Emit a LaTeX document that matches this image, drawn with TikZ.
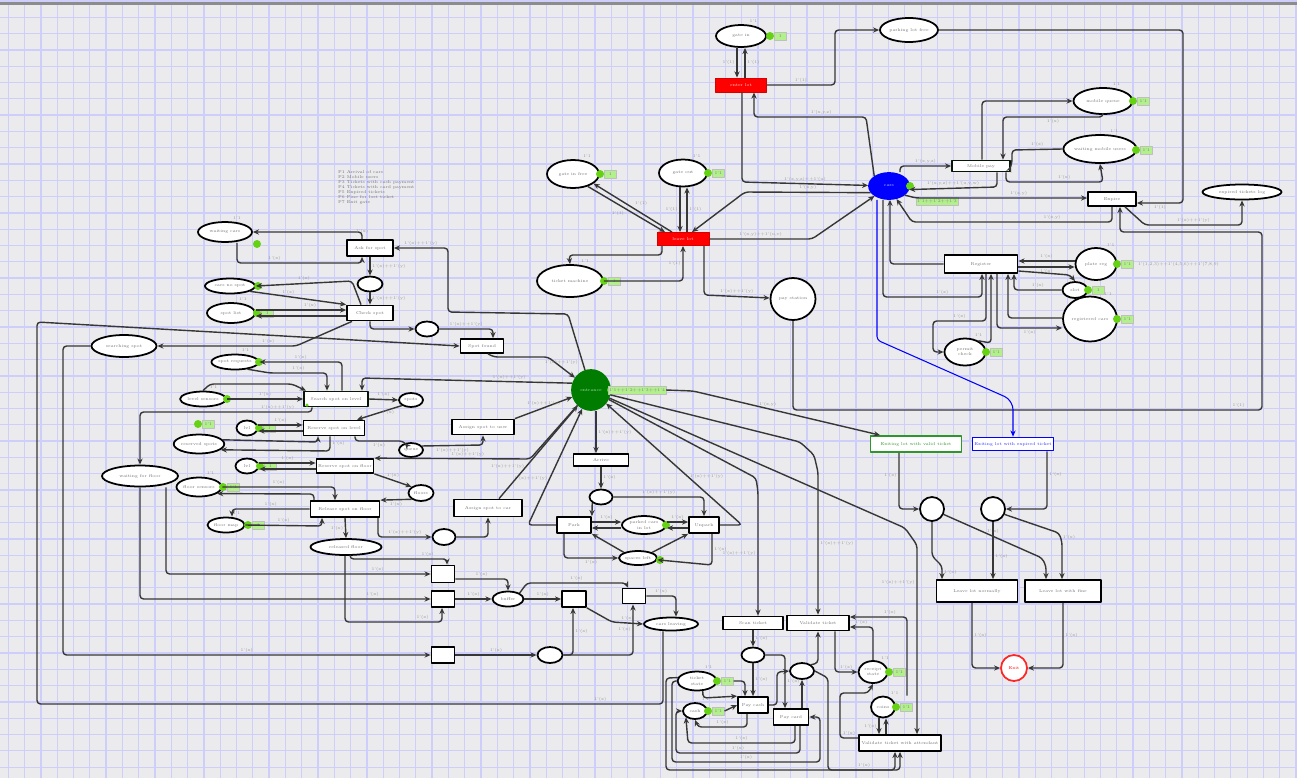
\documentclass[tikz,border=0pt]{standalone}
\usepackage{tikz}
\usetikzlibrary{arrows.meta,shapes.geometric}

\definecolor{bggray}{RGB}{235,235,237}
\definecolor{gridblue}{RGB}{206,206,250}
\definecolor{tokgreen}{RGB}{102,210,20}
\definecolor{markgreen}{RGB}{178,240,140}
\definecolor{firered}{RGB}{255,0,0}
\definecolor{darkgreen}{RGB}{0,125,0}
\definecolor{rimgreen}{RGB}{45,150,45}
\definecolor{edgegray}{RGB}{55,55,55}

\newcommand{\nodefont}{\fontsize{2.4}{2.9}\selectfont}
% token dot plus marking box next to a place
\newcommand{\tokmark}[4]{%
  \node[tok] (#1t) at (#2,#3) {};
  \node[tokbox, anchor=west] (#1m) at (#2+4,#3) {#4};}

\tikzset{
  place/.style 2 args={ellipse, draw, line width=1pt, fill=white, inner sep=0pt,
    minimum width=#1*0.02cm, minimum height=#2*0.02cm, font=\nodefont, text=black!55, align=center},
  transition/.style 2 args={rectangle, draw, line width=1pt, fill=white, inner sep=0pt,
    minimum width=#1*0.02cm, minimum height=#2*0.02cm, font=\nodefont, text=black!55},
  firing/.style={fill=firered, draw=firered!85!black, text=white!85!red, line width=0.5pt},
  flow/.style={draw=edgegray, line width=0.8pt, rounded corners=2pt, ->},
  tok/.style={circle, fill=tokgreen, inner sep=0pt, minimum size=0.16cm},
  tokbox/.style={fill=markgreen, draw=black!25, line width=0.3pt, inner sep=0.6pt,
    minimum width=0.24cm, minimum height=0.16cm, font=\nodefont, text=black!50},
  lbl/.style={font=\nodefont, text=black!40, inner sep=1pt},
}

\begin{document}
\begin{tikzpicture}[x=0.02cm, y=-0.02cm, >={Stealth[length=3.5pt,width=3pt]}, line join=round]
  % canvas with grid
  \useasboundingbox (0,0) rectangle (1297,778);
  \fill[bggray] (0,0) rectangle (1297,778);
  \foreach \i in {0,...,79} \draw[gridblue, line width=0.7pt] ({8.3+16.3*\i},0) -- ++(0,778);
  \foreach \j in {0,...,47} \draw[gridblue, line width=0.7pt] (0,{1+16.3*\j}) -- ++(1297,0);
  \fill[black!45] (0,2) rectangle (1297,4.5);

  % notes
  \node[lbl, anchor=north west, align=left, text=black!55] (notes) at (336,168)
    {P1 Arrival of cars\\P2 Mobile users\\P3 Tickets with cash payment\\P4 Tickets with card payment\\P5 Expired tickets\\P6 Fine for lost ticket\\P7 Exit gate};

  % upper part: gates
  \node[place={50}{22}, label={[lbl]60:1'1}] (ptop1) at (741,36) {gate in};
  \tokmark{ptop1}{770}{36}{1}
  \node[place={58}{24}] (ptop2) at (909,30) {parking lot free};
  \node[transition={51}{14}, firing] (tred1) at (741,85) {enter lot};
  \node[place={40}{26}, fill=blue, draw=blue, text=white!80!blue] (pblue) at (889,186) {cars};
  \node[tok] (pbluet) at (910,186) {};
  \node[tokbox, minimum width=0.76cm] (pbluem) at (937,201) {1'1++1'2++1'3};
  \node[transition={52}{13}, firing] (tred2) at (683,239) {leave lot};
  \node[place={52}{28}, label={[lbl]60:1'1}] (pa) at (573,174) {gate in free};
  \tokmark{pa}{600}{174}{1}
  \node[place={48}{27}, label={[lbl]60:1'1}] (pb) at (683,173) {gate out};
  \tokmark{pb}{708}{173}{1'1}
  \node[place={66}{32}, label={[lbl]60:1'1}] (pc) at (570,281) {ticket machine};
  \tokmark{pc}{604}{281}{1}
  \node[place={45}{42}] (pbig) at (793,299) {pay station};

  % right part: mobile payment and registration
  \node[place={59}{26}, label={[lbl]60:1'1}] (pr1) at (1103,101) {mobile queue};
  \tokmark{pr1}{1133}{101}{1'1}
  \node[place={71}{28}, label={[lbl]60:1'1}] (pr2) at (1100,149) {waiting mobile users};
  \tokmark{pr2}{1136}{150}{1'1}
  \node[transition={58}{11}, draw=black!85!rimgreen] (tr1) at (981,166) {Mobile pay};
  \node[transition={48}{14}] (tr2) at (1112,199) {Expire};
  \node[place={79}{15}] (pr3) at (1242,192) {expired tickets log};
  \node[transition={73}{18}] (tr3) at (981,264) {Register};
  \node[place={41}{32}, label={[lbl]60:1'1}] (pr4) at (1096,264) {plate reg};
  \tokmark{pr4}{1117}{264}{1'1}
  \node[lbl, anchor=west] (pr4note) at (1136,264) {1'(1,2,3)++1'(4,5,6)++1'(7,8,9)};
  \node[place={25}{16}] (pr5) at (1075,290) {slot};
  \tokmark{pr5}{1088}{290}{1}
  \node[place={54}{45}, label={[lbl]60:1'1}] (pr6) at (1090,319) {registered cars};
  \tokmark{pr6}{1117}{319}{1'1}
  \node[place={41}{27}, label={[lbl]60:1'1}] (pr7) at (965,352) {permit\\check};
  \tokmark{pr7}{986}{352}{1'1}

  % exit part
  \node[transition={91}{16}, draw=rimgreen, text=rimgreen] (tgreen) at (916,444) {Exiting lot with valid ticket};
  \node[transition={81}{13}, draw=blue, text=blue!80] (tblue) at (1013,444) {Exiting lot with expired ticket};
  \node[place={24}{24}] (c1) at (932,509) {};
  \node[place={24}{24}] (c2) at (993,509) {};
  \node[transition={81}{22}] (tb1) at (977,591) {Leave lot normally};
  \node[transition={76}{22}] (tb2) at (1063,591) {Leave lot with fine};
  \node[place={26}{26}, draw=red!85, text=red] (pred) at (1014,668) {Exit};

  % center: entrance
  \node[place={38}{40}, fill=darkgreen, draw=darkgreen, text=white!70!darkgreen] (pgreen) at (591,390) {entrance};
  \node[tok] (pgreent) at (611,390) {};
  \node[tokbox, minimum width=0.86cm] (gmark) at (637,390) {1'1++1'2++1'3++1'4};
  \node[transition={55}{12}] (tc1) at (601,460) {Arrive};
  \node[place={23}{15}] (pc1) at (601,497) {};
  \node[transition={34}{16}] (tc2) at (574,525) {Park};
  \node[place={44}{18}] (pc2) at (644,525) {parked cars\\in lot};
  \node[tok] (pc2t) at (666,525) {};
  \node[transition={30}{16}] (tc3) at (704,525) {Unpark};
  \node[place={38}{14}] (pc3) at (638,558) {spaces left};
  \node[tok] (pc3t) at (660,560) {};
  \node[transition={62}{15}] (tc4) at (483,427) {Assign spot to user};
  \node[transition={68}{17}] (tc5) at (488,508) {Assign spot to car};

  % bottom center
  \node[transition={23}{17}] (td1) at (443,574) {};
  \node[transition={23}{16}] (td2) at (443,599) {};
  \node[place={31}{15}] (pd1) at (508,599) {buffer};
  \node[transition={24}{16}] (td3) at (574,599) {};
  \node[transition={23}{15}] (td4) at (634,596) {};
  \node[place={54}{13}] (pd2) at (671,624) {cars leaving};
  \node[transition={23}{16}] (td5) at (443,655) {};
  \node[place={25}{16}] (pd3) at (550,655) {};

  % bottom right: payment
  \node[transition={60}{13}] (te1) at (753,623) {Scan ticket};
  \node[transition={62}{15}] (te2) at (818,623) {Validate ticket};
  \node[place={23}{15}] (pe1) at (753,655) {};
  \node[place={24}{16}] (pe2) at (802,671) {};
  \node[place={39}{19}, label={[lbl]60:1'1}] (pe3) at (697,681) {ticket\\state};
  \tokmark{pe3}{717}{681}{1'1}
  \node[place={24}{16}, label={[lbl]60:1'1}] (pe4) at (695,711) {cash};
  \tokmark{pe4}{708}{711}{1'1}
  \node[transition={30}{16}] (te3) at (753,705) {Pay cash};
  \node[transition={35}{16}] (te4) at (791,717) {Pay card};
  \node[place={29}{22}, label={[lbl]60:1'1}] (pe5) at (873,672) {receipt\\state};
  \tokmark{pe5}{889}{672}{1'1}
  \node[place={24}{21}, label={[lbl]60:1'1}] (pe6) at (883,707) {coins};
  \tokmark{pe6}{896}{707}{1'1}
  \node[transition={82}{16}] (te5) at (900,743) {Validate ticket with attendant};

  % left part: spot search
  \node[place={54}{20}, label={[lbl]60:1'1}] (pl1) at (225,232) {waiting cars};
  \node[tok] (pl1t) at (257,244) {};
  \node[transition={46}{16}] (tl1) at (370,248) {Ask for spot};
  \node[place={25}{15}] (pl2) at (370,284) {};
  \node[place={50}{15}] (pl3) at (230,286) {cars no spot};
  \node[tok] (pl3t) at (258,286) {};
  \node[place={48}{20}, label={[lbl]60:1'1}] (pl4) at (231,313) {spot list};
  \tokmark{pl4}{257}{313}{1}
  \node[transition={46}{15}] (tl2) at (370,313) {Check spot};
  \node[place={23}{15}] (pl5) at (427,329) {};
  \node[transition={43}{14}] (tl3) at (482,346) {Spot found};
  \node[place={65}{22}] (pl23) at (124,346) {searching spot};
  \node[place={44}{15}, label={[lbl]60:1'1}] (pl7) at (235,362) {spot requests};
  \node[tok] (pl7t) at (259,362) {};
  \node[transition={64}{15}, draw=black!85!rimgreen] (tl4) at (336,399) {Search spot on level};
  \node[tok, minimum size=0.07cm] (tl4t) at (307,405) {};
  \node[place={46}{15}, label={[lbl]60:1'1}] (pl8) at (203,399) {level sensors};
  \node[tok] (pl8t) at (227,399) {};
  \node[place={24}{14}] (pl9) at (411,400) {spots};
  \node[transition={61}{15}] (tl5) at (334,428) {Reserve spot on level};
  \node[place={21}{15}] (pl10) at (247,428) {lvl};
  \tokmark{pl10}{259}{428}{1}
  \tokmark{plx}{198}{424}{1'1}
  \node[place={45}{19}] (pl11) at (199,444) {reserved spots};
  \node[place={24}{14}] (pl12) at (411,450) {queue};
  \node[place={23}{15}] (pl15) at (247,466) {lvl};
  \tokmark{pl15}{260}{466}{1}
  \node[transition={57}{14}] (tl6) at (345,466) {Reserve spot on floor};
  \node[place={76}{21}] (pl16) at (140,476) {waiting for floor};
  \node[place={45}{19}, label={[lbl]60:1'1}] (pl17) at (199,487) {floor sensors};
  \tokmark{pl17}{223}{487}{1'1}
  \node[place={25}{16}] (pl18) at (421,493) {floors};
  \node[transition={69}{16}] (tl7) at (345,509) {Release spot on floor};
  \node[place={37}{15}, label={[lbl]60:1'1}] (pl19) at (226,525) {floor map};
  \tokmark{pl19}{248}{525}{1}
  \node[place={71}{16}] (pl20) at (346,547) {released floor};
  \node[place={23}{16}] (pl21) at (444,537) {};

  % arcs of the upper part
  \draw[flow] (737,0 |- ptop1.south) -- (737,0 |- tred1.north) node[lbl,pos=.5,left]{1'(1)};
  \draw[flow] (745,0 |- tred1.north) -- (745,0 |- ptop1.south) node[lbl,pos=.5,right]{1'(1)};
  \draw[flow] (tred1.east) -- (835,85) node[lbl,pos=.5,above]{1'(1)} -- (835,30) -- (ptop2.west);
  \draw[flow] (ptop2.east) -- (1183,30) -- (1183,203) -- (tr2.east |- 0,203) node[lbl,pos=.5,below]{1'(1)};
  \draw[flow] (pblue.north west) -- (866,117) -- (754,117) node[lbl,pos=.4,above]{1'(x,y,z)} -- (754,0 |- tred1.south);
  \draw[flow] (742,0 |- tred1.south) -- (742,182) -- (pblue) node[lbl,pos=.5,above]{1'(x,y,z)++1'(u)};
  \draw[flow] (tred2.east) -- (812,239) node[lbl,pos=.5,above]{1'(x,y)++1'(u,v)} -- (pblue);
  \draw[flow] (pblue.200) -- (745,192) node[lbl,pos=.5,above]{1'(x,y)} -- (692,0 |- tred2.north);
  \draw[flow] (pa.-40) -- (665,0 |- tred2.north) node[lbl,pos=.5,below left]{1'(1)};
  \draw[flow] (672,0 |- tred2.north) -- (pa.-25) node[lbl,pos=.5,above right]{1'(1)};
  \draw[flow] (680,0 |- pb.south) -- (680,0 |- tred2.north) node[lbl,pos=.5,left]{1'(1)};
  \draw[flow] (687,0 |- tred2.north) -- (687,0 |- pb.south) node[lbl,pos=.5,right]{1'(1)};
  \draw[flow] (662,0 |- tred2.south) -- (662,255) -- (569,255) -- (pc.north);
  \draw[flow] (pc.east) -- (683,281) -- (683,0 |- tred2.south) node[lbl,pos=.5,left]{1'(1)};
  \draw[flow] (704,0 |- tred2.south) -- (704,295) -- (pbig) node[lbl,pos=.5,above]{1'(x)++1'(y)};
  \draw[flow] (pbig.south) -- (793,410) -- (1262,410) node[lbl,pos=.95,above]{1'(1)} -- (1262,232) -- (1120,232) -- (1120,0 |- tr2.south);

  % arcs of the right part
  \draw[flow] (900,0 |- pblue.north) -- (900,166) -- (tr1.west) node[lbl,pos=.5,above]{1'(x,y,z)};
  \draw[flow] (982,0 |- tr1.north) -- (982,101) -- (pr1.west);
  \draw[flow] (pr1.south) -- (1103,117) -- (1003,117) node[lbl,pos=.5,below]{1'(x)} -- (1003,0 |- tr1.north);
  \draw[flow] (pr2.west) -- (1012,150) node[lbl,pos=.5,above]{1'(x)} -- (1012,163) -- (tr1.east);
  \draw[flow] (1006,0 |- tr1.south) -- (1006,182) -- (1103,182) node[lbl,pos=.6,above]{1'(x)} -- (pr2.south);
  \draw[flow] (997,0 |- tr1.south) -- (997,187) -- (pblue.-10) node[lbl,pos=.5,above]{1'(x,y,z)++1'(u,v,w)};
  \draw[flow] (pblue.-30) -- (916,198) -- (tr2.west |- 0,198) node[lbl,pos=.6,above]{1'(x,y)};
  \draw[flow] (1112,0 |- tr2.south) -- (1112,222) -- (912,222) node[lbl,pos=.3,above]{1'(x,y)} -- (pblue.-60);
  \draw[flow] (1125,0 |- tr2.south) -- (1145,225) -- (1242,225) node[lbl,pos=.5,above]{1'(x)++1'(y)} -- (pr3.south);
  \draw[flow] (tr3.west) -- (890,264) -- (890,0 |- pblue.south);
  \draw[flow] (883,0 |- pblue.south) -- (883,297) -- (982,297) node[lbl,pos=.6,above]{1'(x)} -- (982,0 |- tr3.south);
  \draw[flow] (pr4.west |- 0,261) -- (tr3.east |- 0,261) node[lbl,pos=.5,above]{1'(x)};
  \draw[flow] (tr3.east |- 0,267) -- (pr4.west |- 0,267) node[lbl,pos=.5,below]{1'(x)};
  \draw[flow] (tr3.east |- 0,271) -- (1070,275) -- (pr5.north);
  \draw[flow] (pr5.west) -- (1014,290) node[lbl,pos=.5,above]{1'(x)} -- (1014,0 |- tr3.south);
  \draw[flow] (pr6.west |- 0,318) -- (1008,318) -- (1008,0 |- tr3.south);
  \draw[flow] (997,0 |- tr3.south) -- (997,328) -- (pr6.west |- 0,328) node[lbl,pos=.5,below]{1'(x)};
  \draw[flow] (986,0 |- tr3.south) -- (986,321) -- (933,321) node[lbl,pos=.5,above]{1'(x)} -- (933,352) -- (pr7.west);
  \draw[flow] (pr7.40) -- (991,343) -- (991,0 |- tr3.south);
  \draw[flow, draw=blue, line width=0.6pt] (877,0 |- pblue.south) -- (877,340) -- (1008,398) -- (1013,406) -- (tblue.north);

  % arcs of the exit part
  \draw[flow] (gmark.east) -- (693,391) -- (880,0 |- tgreen.north) node[lbl,pos=.4,above]{1'(x,y)};
  \draw[flow] (899,0 |- tgreen.south) -- (899,509) node[lbl,pos=.4,left]{1'(x)} -- (c1.west);
  \draw[flow] (1047,0 |- tblue.south) -- (1047,509) node[lbl,pos=.4,right]{1'(x)} -- (c2.east);
  \draw[flow] (c1.south) -- (932,556) -- (942,566) -- (942,0 |- tb1.north) node[lbl,pos=.5,right]{1'(x)};
  \draw[flow] (c1.-25) -- (1042,558) node[lbl,pos=.5,above]{1'(x)} -- (1046,566) -- (1046,0 |- tb2.north);
  \draw[flow] (c2.south) -- (993,0 |- tb1.north) node[lbl,pos=.6,right]{1'(x)};
  \draw[flow] (c2.-25) -- (1059,533) -- (1062,542) node[lbl,pos=.5,right]{1'(x)} -- (1062,0 |- tb2.north);
  \draw[flow] (972,0 |- tb1.south) -- (972,668) node[lbl,pos=.5,right]{1'(x)} -- (pred.west);
  \draw[flow] (1063,0 |- tb2.south) -- (1063,668) node[lbl,pos=.5,right]{1'(x)} -- (pred.east);

  % arcs around the entrance
  \draw[flow] (596,0 |- pgreen.south) -- (596,0 |- tc1.north) node[lbl,pos=.5,right]{1'(x)++1'(y)};
  \draw[flow] (601,0 |- tc1.south) -- (pc1.north) node[lbl,pos=.5,right]{1'(x)};
  \draw[flow] (pc1.south west) -- (tc2.north east);
  \draw[flow] (pc1.east) -- (704,497) node[lbl,pos=.5,above]{1'(x)++1'(y)} -- (tc3.north);
  \draw[flow] (tc2.east |- 0,522) -- (pc2.west |- 0,522) node[lbl,pos=.5,above]{1'(x)};
  \draw[flow] (pc2.west |- 0,528) -- (tc2.east |- 0,528);
  \draw[flow] (pc2.east |- 0,522) -- (tc3.west |- 0,522) node[lbl,pos=.5,above]{1'(x)};
  \draw[flow] (tc3.west |- 0,528) -- (pc2.east |- 0,528);
  \draw[flow] (564,0 |- tc2.south) -- (564,558) -- (pc3.west) node[lbl,pos=.5,below]{1'(x)};
  \draw[flow] (pc3.north west) -- (tc2.south east);
  \draw[flow] (pc3.north east) -- (tc3.south west);
  \draw[flow] (712,0 |- tc3.south) -- (712,565) node[lbl,pos=.5,right]{1'(x)} -- (pc3);
  \draw[flow] (tc2.west) -- (528,525) -- (pgreen) node[lbl,pos=.4,left]{1'(x)++1'(y)};
  \draw[flow] (tc3.east) -- (742,525) -- (pgreen) node[lbl,pos=.4,right]{1'(x)++1'(y)};
  \draw[flow] (tc4.north east) -- (pgreen) node[lbl,pos=.5,above]{1'(x)++1'(y)};
  \draw[flow] (499,0 |- tc5.north) -- (pgreen) node[lbl,pos=.35,left]{1'(x)++1'(y)};
  \draw[flow] (pgreen) -- (756,478) -- (758,492) -- (758,0 |- te1.north) node[lbl,pos=.5,left]{1'(x)++1'(y)};
  \draw[flow] (pgreen) -- (800,442) -- (814,455) -- (818,472) -- (818,0 |- te2.north) node[lbl,pos=.5,right]{1'(x)++1'(y)};
  \draw[flow] (pgreen) -- (905,528) -- (917,545) -- (917,0 |- te5.north) node[lbl,pos=.2,left]{1'(x)++1'(y)};

  % arcs of the left part
  \draw[flow] (362,0 |- tl1.north) -- (362,232) node[lbl,pos=.5,above]{1'(x)} -- (pl1.east);
  \draw[flow] (237,0 |- pl1.south) -- (237,263) -- (362,263) node[lbl,pos=.3,above]{1'(x)} -- (362,0 |- tl1.south);
  \draw[flow] (tl1.south) -- (pl2.north) node[lbl,pos=.5,right]{1'(x)++1'(y)};
  \draw[flow] (pl2.south) -- (tl2.north) node[lbl,pos=.5,right]{1'(x)++1'(y)};
  \draw[flow] (pgreen) -- (568,314) -- (448,312) -- (448,248) -- (tl1.east) node[lbl,pos=.5,above]{1'(x)++1'(y)};
  \draw[flow] (361,0 |- tl2.north) -- (352,281) -- (pl3.east) node[lbl,pos=.5,above]{1'(x)};
  \draw[flow] (pl3.-15) -- (tl2.north west) node[lbl,pos=.4,above]{1'(x)};
  \draw[flow] (pl4.east |- 0,310) -- (tl2.west |- 0,310) node[lbl,pos=.6,above]{1'(x)};
  \draw[flow] (tl2.west |- 0,316) -- (pl4.east |- 0,316);
  \draw[flow] (370,0 |- tl2.south) -- (370,329) -- (pl5.west);
  \draw[flow] (pl5.east) -- (493,329) node[lbl,pos=.5,above]{1'(x)++1'(y)} -- (493,0 |- tl3.north);
  \draw[flow] (352,0 |- tl2.south) -- (296,346) -- (pl23.east) node[lbl,pos=.2,above]{1'(x)};
  \draw[flow] (663,0 |- pd2.south) -- (663,704) -- (37,704) node[lbl,pos=.1,above]{1'(x)} -- (37,322) -- (tl3.west);
  \draw[flow] (488,0 |- tl3.south) -- (494,357) -- (548,357) -- (pgreen) node[lbl,pos=.5,above]{1'(x)++1'(y)};
  \draw[flow] (pl23.west) -- (63,346) -- (63,655) -- (td5.west) node[lbl,pos=.5,above]{1'(x)};
  \draw[flow] (pgreen.160) -- (362,378) node[lbl,pos=.3,above]{1'(x)++1'(y)} -- (362,0 |- tl4.north);
  \draw[flow] (342,0 |- tl4.north) -- (342,362) -- (pl7.east) node[lbl,pos=.5,above]{1'(x)};
  \draw[flow] (pl7.-30) -- (270,373) -- (327,373) node[lbl,pos=.5,above]{1'(x)} -- (327,0 |- tl4.north);
  \draw[flow] (pl8.east) -- (tl4.west) node[lbl,pos=.5,above]{1'(x)};
  \draw[flow] (pl8.north) -- (210,384) -- (292,384) -- (306,0 |- tl4.north);
  \draw[flow] (tl4.east) -- (pl9.west) node[lbl,pos=.5,above]{1'(x)};
  \draw[flow] (pl9.south west) -- (357,0 |- tl5.north) node[lbl,pos=.5,right]{1'(x)};
  \draw[flow] (312,0 |- tl4.south) -- (312,412) -- (140,412) node[lbl,pos=.2,above]{1'(x)++1'(y)} -- (pl16.north);
  \draw[flow] (pl10.east |- 0,425) -- (tl5.west |- 0,425) node[lbl,pos=.5,above]{1'(x)};
  \draw[flow] (tl5.west |- 0,431) -- (pl10.east |- 0,431);
  \draw[flow] (pl11.10) -- (318,442) -- (318,0 |- tl5.south);
  \draw[flow] (330,0 |- tl5.south) -- (330,451) node[lbl,pos=.5,right]{1'(x)} -- (pl11.-15);
  \draw[flow] (355,0 |- tl5.south) -- (355,441) -- (403,441) node[lbl,pos=.5,below]{1'(x)} -- (pl12);
  \draw[flow] (pl12.20) -- (483,445) node[lbl,pos=.5,below]{1'(x)++1'(y)} -- (483,0 |- tc4.south);
  \draw[flow] (pgreen) -- (530,459) -- (tl6.north east) node[lbl,pos=.4,above]{1'(x)++1'(y)};
  \draw[flow] (tl6.south east) -- (pl18.north west) node[lbl,pos=.5,above]{1'(x)};
  \draw[flow] (pl18.south west) -- (tl7.north east) node[lbl,pos=.5,below]{1'(x)};
  \draw[flow] (pl15.east |- 0,463) -- (tl6.west |- 0,463) node[lbl,pos=.5,above]{1'(x)};
  \draw[flow] (tl6.west |- 0,469) -- (pl15.east |- 0,469);
  \draw[flow] (pl17.east) -- (335,487) node[lbl,pos=.5,above]{1'(x)} -- (335,0 |- tl7.north);
  \draw[flow] (314,0 |- tl7.north) -- (314,494) -- (pl17.-20);
  \draw[flow] (tl7.west) -- (232,509) node[lbl,pos=.5,above]{1'(x)} -- (232,0 |- pl19.north);
  \draw[flow] (pl19.east) -- (322,526) node[lbl,pos=.5,above]{1'(x)} -- (322,0 |- tl7.south);
  \draw[flow] (345,0 |- tl7.south) -- (pl20.north) node[lbl,pos=.5,left]{1'(x)};
  \draw[flow] (378,0 |- tl7.south) -- (378,537) -- (pl21.west) node[lbl,pos=.5,above]{1'(x)++1'(y)};
  \draw[flow] (pl21.east) -- (488,537) -- (488,0 |- tc5.south);

  % arcs of the bottom center
  \draw[flow] (166,0 |- pl16.south) -- (166,574) -- (td1.west) node[lbl,pos=.8,above]{1'(x)};
  \draw[flow] (pl16.south) -- (140,599) -- (td2.west) node[lbl,pos=.8,above]{1'(x)};
  \draw[flow] (350,0 |- pl20.south) -- (350,559) -- (447,559) node[lbl,pos=.8,above]{1'(x)} -- (447,0 |- td1.north);
  \draw[flow] (345,0 |- pl20.south) -- (345,622) -- (442,622) node[lbl,pos=.8,above]{1'(x)} -- (442,0 |- td2.south);
  \draw[flow] (td1.east |- 0,579) -- (508,579) node[lbl,pos=.5,above]{1'(x)} -- (pd1.north);
  \draw[flow] (td2.east) -- (pd1.west) node[lbl,pos=.5,above]{1'(x)};
  \draw[flow] (pd1.east) -- (td3.west) node[lbl,pos=.5,above]{1'(x)};
  \draw[flow] (pd1.north east) -- (527,583) -- (626,583) node[lbl,pos=.5,above]{1'(x)} -- (628,0 |- td4.north);
  \draw[flow] (td3.south east) -- (612,622) -- (pd2.west) node[lbl,pos=.5,above]{1'(x)};
  \draw[flow] (td4.east) -- (676,596) node[lbl,pos=.5,above]{1'(x)} -- (676,0 |- pd2.north);
  \draw[flow] (td5.east) -- (pd3.west) node[lbl,pos=.5,above]{1'(x)};
  \draw[flow] (pd3.east) -- (573,655) -- (573,0 |- td3.south) node[lbl,pos=.5,right]{1'(x)};
  \draw[flow] (pd3.east) -- (633,655) -- (633,0 |- td4.south) node[lbl,pos=.5,left]{1'(x)};

  % arcs of the payment part
  \draw[flow] (te1.south) -- (pe1.north) node[lbl,pos=.5,right]{1'(x)};
  \draw[flow] (pe1.south) -- (te3.north) node[lbl,pos=.5,right]{1'(x)};
  \draw[flow] (pe1.east) -- (785,655) -- (785,0 |- te4.north) node[lbl,pos=.5,right]{1'(x)};
  \draw[flow] (te3.east) -- (777,705) -- (777,672) -- (pe2.west);
  \draw[flow] (802,0 |- te4.north) -- (802,0 |- pe2.south);
  \draw[flow] (pe2.north east) -- (818,663) -- (818,0 |- te2.south);
  \draw[flow] (835,0 |- te2.south) -- (835,672) -- (pe5.west) node[lbl,pos=.5,above]{1'(x)};
  \draw[flow] (pe5.north) -- (873,627) -- (te2.east |- 0,627) node[lbl,pos=.5,above]{1'(x)};
  \draw[flow] (907,0 |- pe6.north) -- (907,617) -- (te2.east |- 0,617) node[lbl,pos=.3,above]{1'(x)};
  \draw[flow] (879,0 |- pe6.south) -- (879,0 |- te5.north) node[lbl,pos=.5,left]{1'(x)};
  \draw[flow] (886,0 |- te5.north) -- (886,0 |- pe6.south);
  \draw[flow] (te5.west |- 0,738) -- (840,738) node[lbl,pos=.5,above]{1'(x)} -- (840,693) -- (868,693) -- (pe5.south);
  \draw[flow] (pe2.east) -- (828,678) -- (828,770) -- (900,770) node[lbl,pos=.5,above]{1'(x)} -- (900,0 |- te5.south);
  \draw[flow] (pe3.170) -- (666,678) -- (666,770) -- (828,770) -- (895,770) -- (895,0 |- te5.south);
  \draw[flow] (795,0 |- te4.south) -- (795,743) -- (688,743) node[lbl,pos=.5,above]{1'(x)} -- (pe4.south west);
  \draw[flow] (800,0 |- te4.south) -- (800,753) -- (676,753) node[lbl,pos=.5,above]{1'(x)} -- (676,711) -- (pe4.west);
  \draw[flow] (747,0 |- te3.south) -- (747,727) -- (698,727) node[lbl,pos=.5,above]{1'(x)} -- (pe4.south);
  \draw[flow] (pe4m.east) -- (te3.west);
  \draw[flow] (pe3m.east) -- (745,681) -- (745,0 |- te3.north);
  \draw[flow] (pe3.-60) -- (703,698) -- (te3.north west);
  \draw[flow] (pe3.west) -- (672,681) -- (672,762) -- (820,762) node[lbl,pos=.5,above]{1'(x)} -- (820,717) -- (te4.east);
\end{tikzpicture}
\end{document}
